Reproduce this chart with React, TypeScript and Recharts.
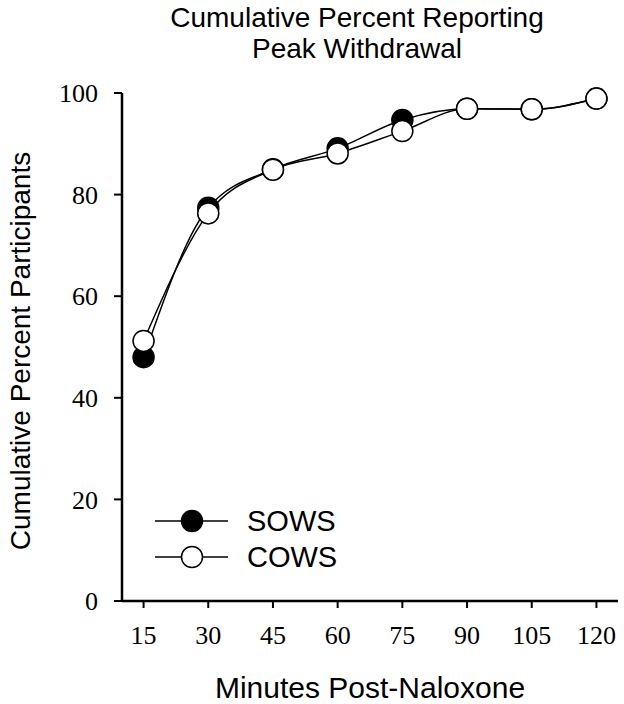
import { LineChart, Line, XAxis, YAxis, Legend } from "recharts";

const minutes = [15, 30, 45, 60, 75, 90, 105, 120];
const sows = [48, 77.4, 85, 89.1, 94.7, 96.9, 96.8, 98.9];
const cows = [51.2, 76.3, 84.9, 88.1, 92.5, 96.9, 96.8, 98.9];
const xTicks = [15, 30, 45, 60, 75, 90, 105, 120];
const yTicks = [0, 20, 40, 60, 80, 100];
const legendOrder = ["SOWS", "COWS"];

const data = minutes.map((m, i) => ({ minute: m, SOWS: sows[i], COWS: cows[i] }));

const sans = "'Liberation Sans', Arial, sans-serif";
const serif = "'Liberation Serif', 'Times New Roman', serif";

const dotStyle = (fill: string) => ({ r: 10.5, fill, stroke: "#000", strokeWidth: 1.5 });

function LegendBox({ payload }: any) {
  const items = [...(payload || [])].sort(
    (a: any, b: any) => legendOrder.indexOf(a.value) - legendOrder.indexOf(b.value)
  );
  return (
    <div>
      {items.map((item: any) => (
        <div key={item.value} style={{ display: "flex", alignItems: "center", height: 36 }}>
          <svg width={73} height={36}>
            <line x1={0} y1={18} x2={73} y2={18} stroke='#000' strokeWidth={1.5} />
            <circle cx={37} cy={18} r={10.5} fill={item.value === "SOWS" ? "#000" : "#fff"} stroke='#000' strokeWidth={1.5} />
          </svg>
          <span style={{ marginLeft: 19, fontFamily: sans, fontSize: 29, lineHeight: "36px", color: "#000" }}>
            {item.value}
          </span>
        </div>
      ))}
    </div>
  );
}

export default function App() {
  return (
    <div style={{ position: "relative", width: 624, height: 704, background: "#fff" }}>
      <style>{"body{margin:0}"}</style>
      <div
        style={{
          position: "absolute",
          top: 2,
          left: 57,
          width: 600,
          textAlign: "center",
          fontFamily: sans,
          fontSize: 28,
          lineHeight: "31px",
          color: "#000",
          zIndex: 1,
        }}
      >
        Cumulative Percent Reporting
        <br />
        Peak Withdrawal
      </div>
      <LineChart width={624} height={704} data={data} margin={{ top: 93, right: 6, bottom: 0, left: 0 }}>
        <XAxis
          dataKey='minute'
          type='number'
          domain={[10, 125]}
          ticks={xTicks}
          height={103}
          tickSize={7}
          tickMargin={18}
          axisLine={{ stroke: "#000", strokeWidth: 2.5 }}
          tickLine={{ stroke: "#000", strokeWidth: 2 }}
          tick={{ fill: "#000", fontFamily: serif, fontSize: 26 }}
          label={{
            content: ({ viewBox }: any) => (
              <text
                x={viewBox.x + viewBox.width / 2}
                y={viewBox.y + 97}
                textAnchor='middle'
                fontFamily={sans}
                fontSize={30}
                fill='#000'
              >
                Minutes Post-Naloxone
              </text>
            ),
          }}
        />
        <YAxis
          type='number'
          domain={[0, 100]}
          ticks={yTicks}
          width={122}
          tickSize={8}
          tickMargin={16}
          axisLine={{ stroke: "#000", strokeWidth: 2.5 }}
          tickLine={{ stroke: "#000", strokeWidth: 2 }}
          tick={{ fill: "#000", fontFamily: serif, fontSize: 26 }}
          label={{
            content: ({ viewBox }: any) => {
              const cx = viewBox.x + 30;
              const cy = viewBox.y + viewBox.height / 2 + 4;
              return (
                <text
                  x={cx}
                  y={cy}
                  transform={`rotate(-90 ${cx} ${cy})`}
                  textAnchor='middle'
                  fontFamily={sans}
                  fontSize={28}
                  fill='#000'
                >
                  Cumulative Percent Participants
                </text>
              );
            },
          }}
        />
        <Legend
          layout='vertical'
          align='center'
          verticalAlign='middle'
          content={<LegendBox />}
          wrapperStyle={{ top: 503, left: 155, width: "auto", height: "auto" }}
        />
        <Line
          type='monotone'
          dataKey='SOWS'
          stroke='#000'
          strokeWidth={1.5}
          dot={dotStyle("#000")}
          activeDot={false}
          isAnimationActive={false}
        />
        <Line
          type='monotone'
          dataKey='COWS'
          stroke='#000'
          strokeWidth={1.5}
          dot={dotStyle("#fff")}
          activeDot={false}
          isAnimationActive={false}
        />
      </LineChart>
    </div>
  );
}
